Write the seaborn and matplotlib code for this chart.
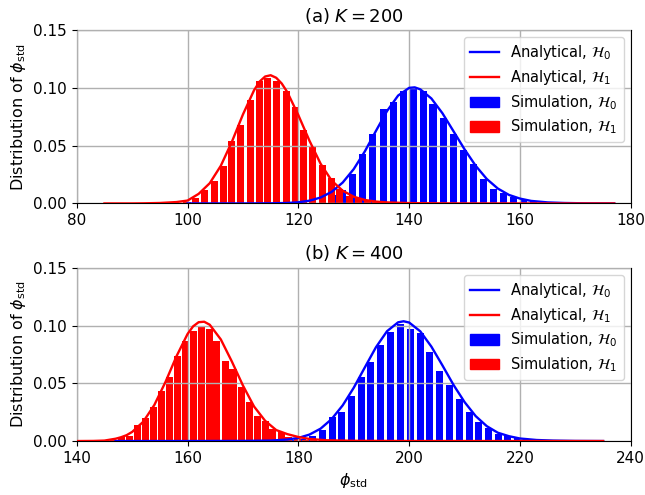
import matplotlib
matplotlib.use("Agg")
import matplotlib.pyplot as plt
import seaborn as sns
import pandas as pd
from matplotlib.patches import Patch
from matplotlib.lines import Line2D

# ---- (a) K = 200 ----
a_sim_h1_x = [99.9, 101.5, 103.1, 104.8, 106.4, 108.0, 109.6, 111.3, 112.9, 114.5, 116.1, 117.8,
              119.4, 121.0, 122.6, 124.3, 125.9, 127.5, 129.2, 130.8, 132.4, 134.0, 135.7, 137.3]
a_sim_h1_y = [0.0012, 0.0045, 0.0119, 0.0196, 0.0324, 0.0537, 0.0679, 0.0897, 0.1062, 0.1082, 0.1056, 0.0971,
              0.0835, 0.0638, 0.0487, 0.0332, 0.0218, 0.0128, 0.0068, 0.0045, 0.0025, 0.0012, 0.0006, 0.0003]
a_sim_h0_x = [122.6, 124.4, 126.2, 128.0, 129.8, 131.6, 133.4, 135.3, 137.1, 138.9, 140.7, 142.5, 144.3,
              146.2, 148.0, 149.8, 151.6, 153.4, 155.3, 157.1, 158.9, 160.7, 162.5, 164.3, 166.2, 168.0]
a_sim_h0_y = [0.0010, 0.0030, 0.0075, 0.0120, 0.0253, 0.0426, 0.0599, 0.0820, 0.0877, 0.0977, 0.0991, 0.0977, 0.0863,
              0.0741, 0.0600, 0.0466, 0.0345, 0.0215, 0.0125, 0.0088, 0.0054, 0.0037, 0.0024, 0.0014, 0.0008, 0.0004]
a_ana_h1_x = [85, 90, 92, 95, 98, 100, 102, 104, 106, 108, 110, 112, 113, 114, 115, 116, 117, 118, 120,
              122, 124, 126, 128, 130, 132, 134, 136, 140, 145, 150, 160, 177]
a_ana_h1_y = [0.0, 0.0, 0.0001, 0.0004, 0.0012, 0.0025, 0.0083, 0.0175, 0.0326, 0.0534, 0.0771, 0.0980, 0.1055,
              0.1099, 0.1110, 0.1088, 0.1038, 0.0964, 0.0764, 0.0543, 0.0345, 0.0198, 0.0110, 0.0058, 0.0030,
              0.0016, 0.0009, 0.0003, 0.0001, 0.0, 0.0, 0.0]
a_ana_h0_x = [100, 110, 115, 118, 120, 122, 124, 126, 128, 130, 132, 134, 136, 138, 140, 141, 142, 144,
              146, 148, 150, 152, 154, 156, 158, 160, 162, 165, 168, 172, 177]
a_ana_h0_y = [0.0, 0.0, 0.0001, 0.0004, 0.0010, 0.0024, 0.0051, 0.0100, 0.0181, 0.0298, 0.0451, 0.0628, 0.0800,
              0.0934, 0.1001, 0.1005, 0.0988, 0.0909, 0.0781, 0.0625, 0.0468, 0.0326, 0.0212, 0.0129, 0.0074,
              0.0042, 0.0022, 0.0009, 0.0004, 0.0001, 0.0]

# ---- (b) K = 400 ----
b_sim_h1_x = [145.1, 146.6, 148.0, 149.5, 150.9, 152.4, 153.8, 155.3, 156.7, 158.1, 159.6, 161.0, 162.5, 163.9,
              165.3, 166.8, 168.2, 169.7, 171.1, 172.6, 174.0, 175.4, 176.9, 178.3, 179.8, 181.2, 182.7]
b_sim_h1_y = [0.0004, 0.0012, 0.0032, 0.0042, 0.0136, 0.0198, 0.0297, 0.0433, 0.0552, 0.0733, 0.0864, 0.0952,
              0.0986, 0.0971, 0.0865, 0.0697, 0.0623, 0.0467, 0.0334, 0.0221, 0.0173, 0.0108, 0.0074, 0.0032,
              0.0018, 0.0010, 0.0005]
b_sim_h0_x = [179.0, 180.7, 182.5, 184.3, 186.1, 187.8, 189.6, 191.4, 193.1, 194.9, 196.7, 198.4, 200.2, 202.0,
              203.7, 205.5, 207.2, 209.0, 210.8, 212.5, 214.3, 216.1, 217.8, 219.6, 221.3, 223.1, 224.9]
b_sim_h0_y = [0.0012, 0.0020, 0.0045, 0.0099, 0.0207, 0.0249, 0.0391, 0.0552, 0.0688, 0.0835, 0.0943, 0.1010,
              0.0971, 0.0936, 0.0773, 0.0603, 0.0484, 0.0363, 0.0255, 0.0164, 0.0113, 0.0065, 0.0045, 0.0028,
              0.0016, 0.0009, 0.0005]
b_ana_h1_x = [140, 143, 145, 147, 148, 149, 150, 152, 154, 156, 158, 160, 161, 162, 163, 164, 166, 168,
              170, 172, 174, 176, 178, 180, 182, 185, 190, 200, 235]
b_ana_h1_y = [0.0, 0.0001, 0.0004, 0.0020, 0.0033, 0.0051, 0.0079, 0.0167, 0.0312, 0.0510, 0.0734, 0.0927,
              0.0993, 0.1029, 0.1033, 0.1007, 0.0880, 0.0688, 0.0480, 0.0299, 0.0175, 0.0095, 0.0060, 0.0035,
              0.0018, 0.0007, 0.0002, 0.0, 0.0]
b_ana_h0_x = [147, 160, 170, 175, 178, 180, 182, 184, 186, 188, 190, 192, 194, 196, 198, 199, 200, 202,
              204, 206, 208, 210, 212, 214, 216, 218, 220, 223, 226, 230, 235]
b_ana_h0_y = [0.0, 0.0, 0.0001, 0.0004, 0.0013, 0.0027, 0.0056, 0.0107, 0.0190, 0.0309, 0.0462, 0.0638, 0.0812,
              0.0951, 0.1028, 0.1037, 0.1026, 0.0950, 0.0818, 0.0655, 0.0486, 0.0337, 0.0216, 0.0129, 0.0072,
              0.0042, 0.0022, 0.0009, 0.0004, 0.0001, 0.0]

panel_titles = [r"(a) $K = 200$", r"(b) $K = 400$"]
x_limits = [(80, 180), (140, 240)]
x_ticks = [[80, 100, 120, 140, 160, 180], [140, 160, 180, 200, 220, 240]]
y_ticks = [0.0, 0.05, 0.10, 0.15]
labels = [r"Analytical, $\mathcal{H}_0$", r"Analytical, $\mathcal{H}_1$",
          r"Simulation, $\mathcal{H}_0$", r"Simulation, $\mathcal{H}_1$"]

panels = [
    (a_sim_h0_x, a_sim_h0_y, a_sim_h1_x, a_sim_h1_y, a_ana_h0_x, a_ana_h0_y, a_ana_h1_x, a_ana_h1_y),
    (b_sim_h0_x, b_sim_h0_y, b_sim_h1_x, b_sim_h1_y, b_ana_h0_x, b_ana_h0_y, b_ana_h1_x, b_ana_h1_y),
]

BLUE = "#0000ff"
RED = "#ff0000"
BAR_W = 1.27

fig = plt.figure(figsize=(6.45, 4.95), dpi=100)
ax_top = fig.add_axes([0.119, 0.589, 0.859, 0.350])
ax_bot = fig.add_axes([0.119, 0.109, 0.859, 0.350])

for i, (ax, p) in enumerate(zip([ax_top, ax_bot], panels)):
    s0x, s0y, s1x, s1y, a0x, a0y, a1x, a1y = p
    ax.bar(s0x, s0y, width=BAR_W, color=BLUE, linewidth=0, zorder=1)
    ax.bar(s1x, s1y, width=BAR_W, color=RED, linewidth=0, zorder=1)
    sns.lineplot(data=pd.DataFrame({"x": a0x, "y": a0y}), x="x", y="y", ax=ax,
                 color=BLUE, linewidth=1.7, zorder=3, estimator=None, sort=False)
    sns.lineplot(data=pd.DataFrame({"x": a1x, "y": a1y}), x="x", y="y", ax=ax,
                 color=RED, linewidth=1.7, zorder=3, estimator=None, sort=False)
    ax.set_xlim(*x_limits[i])
    ax.set_ylim(0, 0.15)
    ax.set_xticks(x_ticks[i])
    ax.set_yticks(y_ticks)
    ax.set_yticklabels([f"{v:.2f}" for v in y_ticks])
    ax.tick_params(labelsize=11)
    ax.grid(True, color="#b0b0b0", linewidth=1.0, zorder=2)
    ax.set_axisbelow(False)
    ax.set_title(panel_titles[i], fontsize=13)
    ax.set_ylabel(r"Distribution of $\phi_{\rm std}$", fontsize=11.5)
    ax.set_xlabel("")
    handles = [Line2D([0], [0], color=BLUE, lw=1.7), Line2D([0], [0], color=RED, lw=1.7),
               Patch(color=BLUE), Patch(color=RED)]
    ax.legend(handles, labels, loc="upper right", fontsize=10.5, labelspacing=0.4)

ax_bot.set_xlabel(r"$\phi_{\rm std}$", fontsize=11.5)

fig.savefig("out.png", dpi=100)
